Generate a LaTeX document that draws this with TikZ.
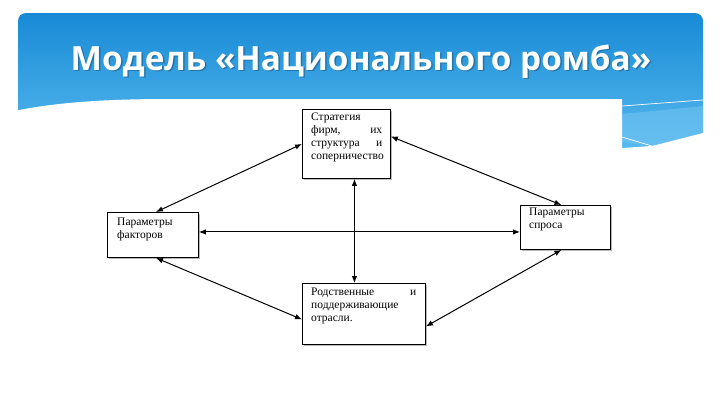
\documentclass[tikz,border=0pt]{standalone}
\usepackage{fontspec}
\setmainfont{Liberation Serif}
\newfontfamily\titlefont{Open Sans}
\usetikzlibrary{arrows.meta,calc}
\definecolor{hdrtop}{RGB}{24,138,214}
\definecolor{hdrbot}{RGB}{88,186,238}
\definecolor{hdrlight}{RGB}{120,198,242}
\tikzset{
  box/.style={draw=black, line width=0.9pt, fill=white, inner sep=0pt, anchor=north west,
    preaction={fill=gray!55, transform canvas={xshift=1.4pt,yshift=-1.4pt}}},
  txt/.style={inner sep=0pt, anchor=north west, align=left,
    font=\fontsize{11.5}{12.8}\selectfont},
  link/.style={line width=1pt, {Latex[length=7pt,width=5.5pt]}-{Latex[length=7pt,width=5.5pt]}},
  ttl/.style={font=\titlefont\bfseries\fontsize{33.3}{38}\selectfont, anchor=base},
}
\begin{document}
\begin{tikzpicture}[x=1pt,y=-1pt]
\useasboundingbox (0,0) rectangle (720,405);
% header
\shade[top color=hdrtop, bottom color=hdrbot, rounded corners=8pt] (18,13) rectangle (703,152);
\fill[hdrlight, opacity=0.5] (622,114) -- (703,106) -- (703,133) -- (650,146) -- (622,142) -- cycle;
\draw[white, line width=0.7pt] (622,106) -- (703,100);
\draw[white, line width=0.7pt] (622,137) -- (652,146);
\fill[white] (10,112) .. controls (50,103) and (100,99) .. (170,99) -- (622,99) -- (622,410) -- (10,410) -- cycle;
\fill[white] (622,148) -- (652,146) -- (703,133) -- (712,133) -- (712,170) -- (622,170) -- cycle;
\node[ttl, text=black, opacity=0.25] (titleshadow) at (362.5,71.5) {Модель «Национального ромба»};
\node[ttl, text=white] (title) at (361,70) {Модель «Национального ромба»};
% boxes
\node[box, minimum width=88pt, minimum height=69pt] (top) at (302,109) {};
\node[box, minimum width=91pt, minimum height=45pt] (left) at (107,212) {};
\node[box, minimum width=90pt, minimum height=44pt] (right) at (520,205) {};
\node[box, minimum width=123pt, minimum height=61pt] (bot) at (302,283) {};
% texts
\node[txt, text width=71pt] (toptxt) at ([shift={(9pt,-4pt)}]top.north west)
  {Стратегия\\ фирм,\hfill их\\ структура\hfill и\\ соперничество};
\node[txt] (lefttxt) at ([shift={(10pt,-6pt)}]left.north west) {Параметры\\ факторов};
\node[txt] (righttxt) at ([shift={(9pt,-3pt)}]right.north west) {Параметры\\ спроса};
\node[txt, text width=105pt] (bottxt) at ([shift={(9pt,-5pt)}]bot.north west)
  {Родственные\hfill и\\ поддерживающие\\ отрасли.};
% connectors
\draw[link] ([xshift=3pt]left.north) -- (top.west);
\draw[link] ([yshift=7.5pt]top.east) -- ([xshift=-4pt]right.north);
\draw[link] ([xshift=3pt]left.south) -- ([yshift=-5.5pt]bot.west);
\draw[link] ([xshift=-4pt]right.south) -- ([yshift=-12.5pt]bot.east);
\draw[link] ([yshift=3pt]left.east) -- ([yshift=3pt]left.east -| right.west);
\draw[link] ([xshift=8pt]top.south) -- ([xshift=8pt]top.south |- bot.north);
\end{tikzpicture}
\end{document}
